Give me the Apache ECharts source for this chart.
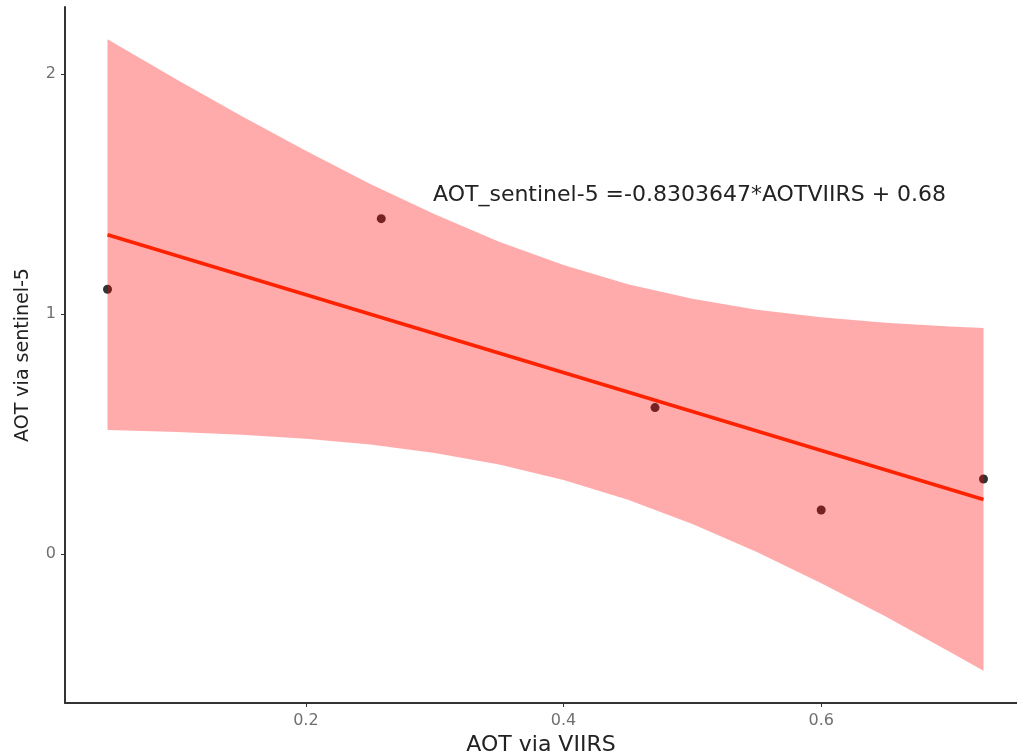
<!DOCTYPE html>
<html>
<head>
<meta charset="utf-8">
<script src="https://cdn.jsdelivr.net/npm/echarts@6/dist/echarts.min.js"></script>
<style>
    html, body { margin: 0; padding: 0; background: #fff; }
    #chart { width: 1017px; height: 755px; }
</style>
</head>
<body>
<div id="chart"></div>
<script>
// observed points (AOT via VIIRS, AOT via sentinel-5)
const pointX = [0.046, 0.2585, 0.471, 0.600, 0.726];
const pointY = [1.103, 1.397, 0.610, 0.183, 0.3125];

// fitted line, read at its two ends
const fitX = [0.046, 0.726];
const fitY = [1.330, 0.227];

// confidence band edges
const bandX = [0.046, 0.1, 0.15, 0.2, 0.25, 0.3, 0.35, 0.4, 0.45, 0.5, 0.55, 0.6, 0.65, 0.7, 0.726];
const bandUpper = [2.145, 1.976, 1.825, 1.680, 1.542, 1.415, 1.301, 1.204, 1.124, 1.063, 1.018, 0.986, 0.963, 0.948, 0.941];
const bandLower = [0.516, 0.508, 0.497, 0.480, 0.456, 0.421, 0.373, 0.308, 0.226, 0.125, 0.008, -0.122, -0.261, -0.408, -0.487];

const xTicks = [0.2, 0.4, 0.6];
const yTicks = [0, 1, 2];

const equationText = 'AOT_sentinel-5 =-0.8303647*AOTVIIRS + 0.68';

const FONT = '"DejaVu Sans", Arial, sans-serif';

const chart = echarts.init(document.getElementById('chart'));

// polygon: along the upper edge then back along the lower edge
const bandPoly = bandX.map((x, i) => [x, bandUpper[i]])
    .concat(bandX.map((x, i) => [x, bandLower[i]]).reverse());

const axisLineStyle = { color: '#333', width: 2 };

chart.setOption({
    animation: false,
    backgroundColor: '#fff',
    textStyle: { fontFamily: FONT },
    grid: { left: 65, right: 0, top: 7, bottom: 52, containLabel: false, outerBoundsMode: 'none' },
    xAxis: {
        type: 'value',
        min: 0.013,
        max: 0.752,
        name: 'AOT via VIIRS',
        nameLocation: 'middle',
        nameGap: 26,
        nameTextStyle: { color: '#222', fontSize: 22 },
        splitLine: { show: false },
        axisLine: { onZero: false, lineStyle: axisLineStyle },
        axisTick: { customValues: xTicks, length: 4, lineStyle: { color: '#333' } },
        axisLabel: { customValues: xTicks, color: '#707070', fontSize: 16, margin: 10 }
    },
    yAxis: {
        type: 'value',
        min: -0.621,
        max: 2.279,
        name: 'AOT via sentinel-5',
        nameLocation: 'middle',
        nameGap: 32,
        nameTextStyle: { color: '#222', fontSize: 19 },
        splitLine: { show: false },
        axisLine: { show: true, onZero: false, lineStyle: axisLineStyle },
        axisTick: { show: true, customValues: yTicks, length: 4, lineStyle: { color: '#333' } },
        axisLabel: { customValues: yTicks, color: '#707070', fontSize: 16, margin: 9 }
    },
    series: [
        {
            type: 'scatter',
            data: pointX.map((x, i) => [x, pointY[i]]),
            symbolSize: 9,
            itemStyle: { color: '#000' },
            z: 2
        },
        {
            type: 'custom',
            data: bandPoly,
            z: 3,
            renderItem: (params, api) => {
                if (params.dataIndex !== 0) return;
                const pts = bandPoly.map(p => api.coord(p));
                return {
                    type: 'polygon',
                    shape: { points: pts },
                    style: { fill: 'rgba(255,0,0,0.33)' }
                };
            }
        },
        {
            type: 'line',
            data: fitX.map((x, i) => [x, fitY[i]]),
            showSymbol: false,
            lineStyle: { color: '#ff2200', width: 3.5 },
            z: 4
        }
    ],
    graphic: [{
        type: 'text',
        left: 433,
        top: 184,
        z: 10,
        style: { text: equationText, fill: '#222', font: '22px ' + FONT }
    }]
});
</script>
</body>
</html>
